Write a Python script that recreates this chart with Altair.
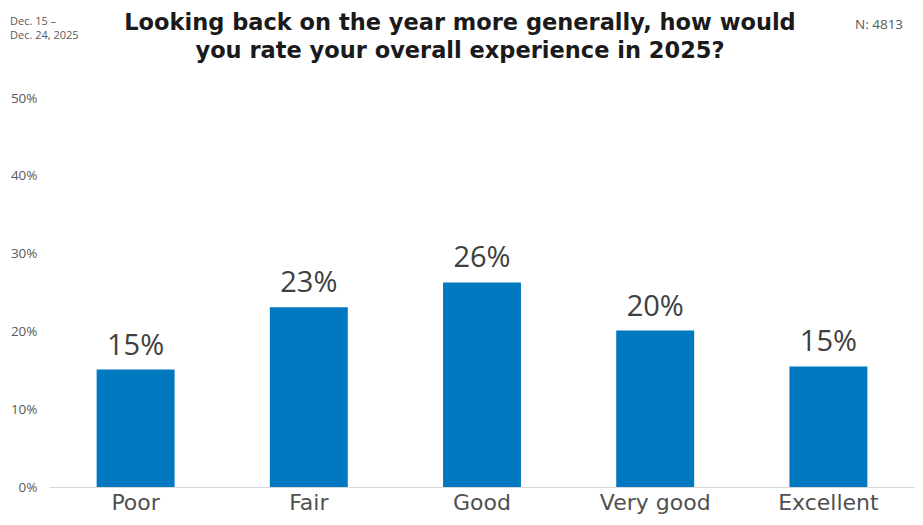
import altair as alt
import pandas as pd

categories = ["Poor", "Fair", "Good", "Very good", "Excellent"]
values = [15.1, 23.1, 26.3, 20.1, 15.5]
labels = ["15%", "23%", "26%", "20%", "15%"]

title_lines = ["Looking back on the year more generally, how would",
               "you rate your overall experience in 2025?"]
date_lines = ["Dec. 15 \u2013", "Dec. 24, 2025"]
n_text = "N: 4813"

FONT = "Open Sans"
WIDE = "DejaVu Sans"
df = pd.DataFrame({"cat": categories, "val": values, "lab": labels})

x_enc = alt.X("cat:N", sort=categories, title=None,
              scale=alt.Scale(paddingInner=0.55),
              axis=alt.Axis(labelAngle=0, labelFontSize=22, labelColor="#505050",
                            labelFont=WIDE, ticks=False, domainColor="#d9d9d9",
                            labelPadding=5))
y_enc = alt.Y("val:Q", title=None,
              scale=alt.Scale(domain=[0, 50]),
              axis=alt.Axis(values=[0, 10, 20, 30, 40, 50], grid=False, domain=False,
                            ticks=False, labelExpr="datum.value + '%'",
                            labelFontSize=13.5, labelColor="#595959", labelFont=FONT,
                            labelPadding=12))

base = alt.Chart(df)
bars = base.mark_bar(color="#0079C1").encode(x=x_enc, y=y_enc)
text = base.mark_text(dy=-9, baseline="bottom", fontSize=29, color="#404040",
                      font=FONT).encode(x=alt.X("cat:N", sort=categories),
                                        y="val:Q", text="lab:N")

title_df = pd.DataFrame({"t": title_lines, "yy": [-75, -47]})
title = alt.Chart(title_df).mark_text(fontSize=22.5, fontWeight="bold", color="#1a1a1a",
                                      font=WIDE, baseline="middle").encode(
    text="t:N", x=alt.value(411), y=alt.Y("yy:Q", scale=None))

date_df = pd.DataFrame({"t": date_lines, "yy": [-76, -62]})
dates = alt.Chart(date_df).mark_text(fontSize=11, color="#595959", font=FONT,
                                     align="left", baseline="middle").encode(
    text="t:N", x=alt.value(-39), y=alt.Y("yy:Q", scale=None))

n_df = pd.DataFrame({"t": [n_text]})
ntext = alt.Chart(n_df).mark_text(fontSize=13.5, color="#595959", font=FONT,
                                  align="left", baseline="middle").encode(
    text="t:N", x=alt.value(806), y=alt.value(-73))

chart = alt.layer(bars, text, title, dates, ntext).properties(
    width=866, height=389,
    background="white",
    autosize=alt.AutoSizeParams(type="none"),
    padding={"left": 41, "top": 90, "right": 0, "bottom": 30},
).configure_view(stroke=None)

chart.save("out.html", embed_options={"renderer": "svg", "actions": False})
